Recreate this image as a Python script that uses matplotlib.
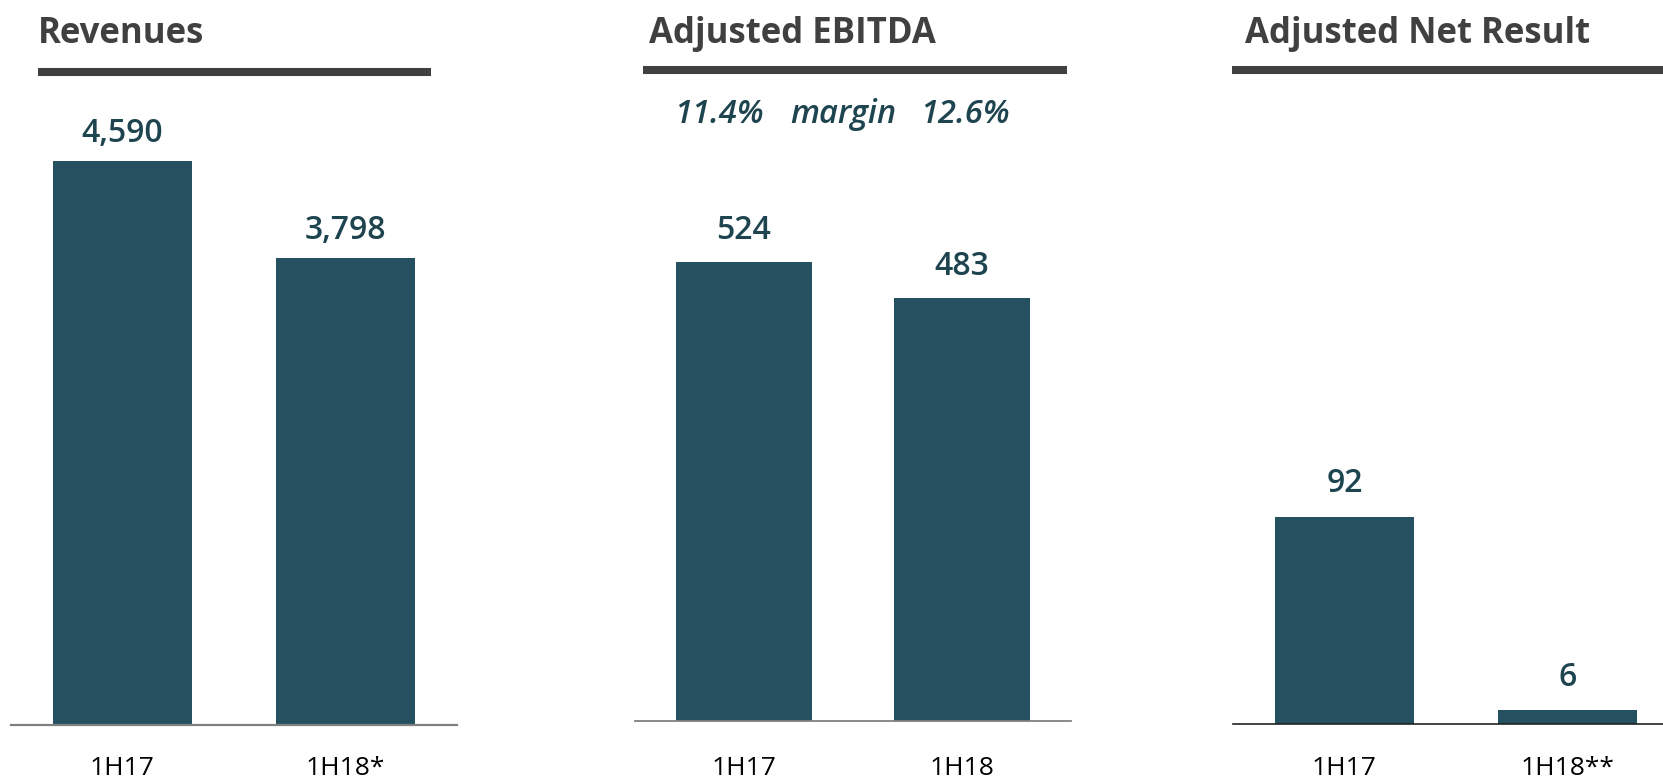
import matplotlib
matplotlib.use("Agg")
import matplotlib.pyplot as plt
from matplotlib.lines import Line2D

# ---- data ----
titles = ["Revenues", "Adjusted EBITDA", "Adjusted Net Result"]
cats_rev = ["1H17", "1H18*"]
vals_rev = [4590, 3798]
cats_ebitda = ["1H17", "1H18"]
vals_ebitda = [524, 483]
cats_net = ["1H17", "1H18**"]
vals_net = [92, 6]
margin_labels = ["11.4%", "margin", "12.6%"]

W, H = 1663, 781
BAR = "#24505f"
VAL = "#1e4450"
TITLE = "#404040"
FONT = ["Open Sans", "DejaVu Sans"]

plt.rcParams["font.family"] = FONT
fig = plt.figure(figsize=(W / 100, H / 100), dpi=100)


def fx(px):
    return px / W


def fy(py):
    return 1 - py / H


panels = [
    # cats, vals, axes left, right, axis y(px), top y(px), ylim max, xlim right, spine color, spine lw, label pad(pt), val pad(pt)
    (cats_rev, vals_rev, 11, 457, 725, 100, 5087, 1.5, "#808080", 1.6, 22, 8.0),
    (cats_ebitda, vals_ebitda, 635, 1071, 721, 100, 709, 1.5, "#808080", 1.3, 25, 10.5),
    (cats_net, vals_net, 1233, 1663, 724, 100, 277.3, 1.43, "#222222", 1.2, 23, 12.0),
]

for cats, vals, left, right, ybase, ytop, ymax, xr, sc, slw, lpad, vpad in panels:
    ax = fig.add_axes([fx(left), fy(ybase), fx(right - left), (ybase - ytop) / H])
    bars = ax.bar(range(len(vals)), vals, width=0.623, color=BAR, edgecolor="none")
    ax.set_xlim(-0.5, xr)
    ax.set_ylim(0, ymax)
    for s in ["top", "right", "left"]:
        ax.spines[s].set_visible(False)
    ax.spines["bottom"].set_color(sc)
    ax.spines["bottom"].set_linewidth(slw)
    ax.set_yticks([])
    ax.set_xticks(range(len(cats)))
    ax.set_xticklabels(cats, fontsize=19, color="black")
    ax.tick_params(axis="x", length=0, pad=lpad)
    ax.bar_label(bars, labels=[f"{v:,}" for v in vals], padding=vpad,
                 fontsize=23, fontweight="semibold", color=VAL)
    ax.patch.set_alpha(0)

# titles and underlines
title_x = [38, 649, 1245]
under = [(38, 431), (643, 1067), (1232, 1663)]
under_y = [72, 69.5, 69.5]
for t, x, (u0, u1), uy in zip(titles, title_x, under, under_y):
    fig.text(fx(x), fy(43), t, fontsize=25, fontweight="bold", color=TITLE,
             ha="left", va="baseline")
    fig.add_artist(Line2D([fx(u0), fx(u1)], [fy(uy), fy(uy)], color=TITLE,
                          linewidth=5.8, solid_capstyle="butt",
                          transform=fig.transFigure))

# margin annotation
for lab, cx in zip(margin_labels, [718.5, 843, 965]):
    fig.text(fx(cx), fy(123), lab, fontsize=23.5, fontstyle="italic",
             fontweight="semibold", color=VAL, ha="center", va="baseline")

fig.savefig("out.png", dpi=100)
